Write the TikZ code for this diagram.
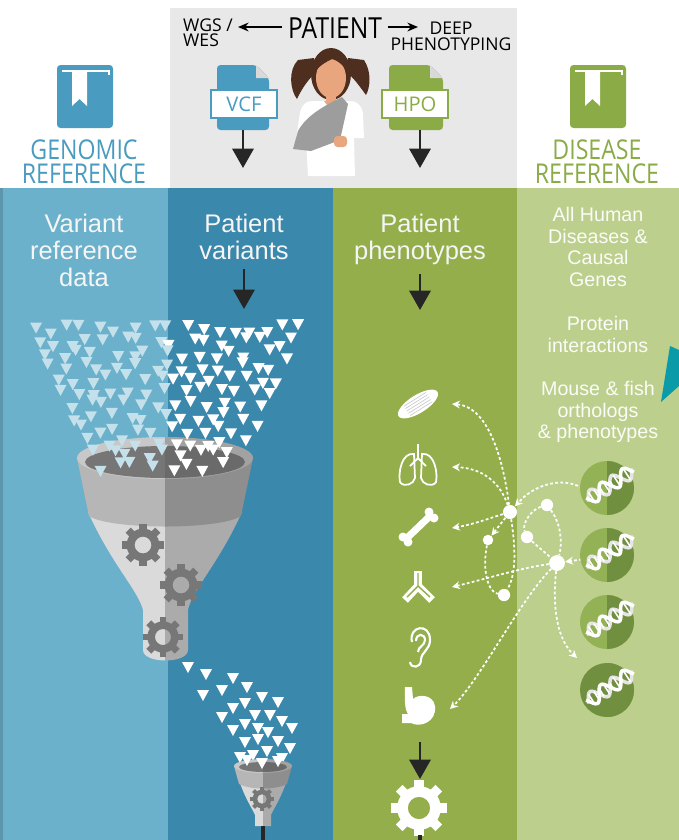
\documentclass[tikz,border=0pt]{standalone}
\usepackage{fontspec}
\usepackage{graphicx}
\setmainfont{Liberation Sans}
\newfontfamily\headfont{Open Sans}
\usetikzlibrary{arrows.meta}

\definecolor{colA}{HTML}{6CB1CB}
\definecolor{colB}{HTML}{3B88AD}
\definecolor{colC}{HTML}{93AE4A}
\definecolor{colD}{HTML}{BCCF8D}
\definecolor{refblue}{HTML}{4A9BC0}
\definecolor{refgreen}{HTML}{8AAB45}
\definecolor{topgray}{HTML}{E8E8E8}
\definecolor{hair}{HTML}{4E2E1F}
\definecolor{skin}{HTML}{E9A57D}
\definecolor{sling}{HTML}{9D9D9D}
\definecolor{gearg}{HTML}{777777}
\definecolor{dnalight}{HTML}{93B155}
\definecolor{dnadark}{HTML}{71903F}
\definecolor{wedge}{HTML}{0A9AA8}
\definecolor{bandL}{HTML}{B6B6B6}
\definecolor{bandR}{HTML}{8E8E8E}
\definecolor{coneL}{HTML}{DADADA}
\definecolor{coneR}{HTML}{ABABAB}
\definecolor{rimL}{HTML}{C8C8C8}
\definecolor{rimR}{HTML}{A2A2A2}
\definecolor{mouthL}{HTML}{767676}
\definecolor{mouthR}{HTML}{6A6A6A}

% condensed caps for the headings
\newcommand\cond[1]{\scalebox{0.85}[1]{#1}}

\tikzset{
  pics/gear/.style={code={
    \fill[even odd rule] (0,0) circle[radius=#1*0.4] circle[radius=#1*0.78];
    \foreach \a in {0,45,...,315}
      \fill[rotate=\a] (-#1*0.17,#1*0.6) rectangle (#1*0.17,#1);
  }},
  pics/drop/.style={code={\fill (-6,-5) -- (6,-5) -- (0,6) -- cycle;}},
  pics/book/.style={code={
    \fill[rounded corners=2pt] (-28,-31) rectangle (28,32);
    \draw[white,line width=1.3pt] (-23,-25) -- (24,-25) -- (24,-21);
    \fill[white] (-13,-25) -- (2,-25) -- (2,10) -- (-5.5,3) -- (-13,10) -- cycle;
  }},
}

\begin{document}
\begin{tikzpicture}[x=0.02cm,y=-0.02cm,
  coltxt/.style={font=\fontsize{14.5}{15.4}\selectfont,text=white!96!black,
                 align=center,inner sep=0pt,anchor=north},
  dbtxt/.style={font=\fontsize{11.2}{12.3}\selectfont,text=white!94!colD,
                align=center,inner sep=0pt,anchor=north},
  reftxt/.style={font=\headfont\fontsize{15.5}{12.6}\selectfont,inner sep=0pt,anchor=north},
  capsmall/.style={font=\headfont\fontsize{10}{8.6}\selectfont,inner sep=0pt,anchor=north},
  filebox/.style={draw,fill=white,line width=1.2pt,minimum width=38pt,minimum height=16pt,
                  inner sep=0pt,font=\headfont\fontsize{11.5}{11.5}\selectfont},
  bigarrow/.style={line width=1.7pt,black!85,-{Triangle[width=12pt,length=11pt]}},
  hub/.style={circle,fill=white,inner sep=0pt,minimum size=7pt},
  dotline/.style={white,line width=1pt,dash pattern=on 1.6pt off 1.3pt},
  dotarrow/.style={dotline,-{Stealth[length=4.5pt,width=4.5pt]}}]

  \useasboundingbox (0,0) rectangle (679,840);
  \fill[white] (0,0) rectangle (679,840);

  % column bands
  \fill[topgray] (170,8) rectangle (517,188);
  \fill[colA] (0,188) rectangle (168,840);
  \fill[colA!85!black] (0,188) rectangle (3,840);
  \fill[colB] (168,188) rectangle (333,840);
  \fill[colC] (333,188) rectangle (517,840);
  \fill[colD] (517,188) rectangle (679,840);

  % reference books
  \pic[fill=refblue] at (85,96) {book};
  \pic[fill=refgreen] at (598,96) {book};
  \node[reftxt,text=refblue] (genref) at (84,139) {\cond{GENOMIC}};
  \node[reftxt,text=refblue] (genref2) at (84,163) {\cond{REFERENCE}};
  \node[reftxt,text=refgreen] (disref) at (597,139) {\cond{DISEASE}};
  \node[reftxt,text=refgreen] (disref2) at (597,163) {\cond{REFERENCE}};

  % patient header
  \node[font=\headfont\fontsize{16.5}{16.5}\selectfont,inner sep=0pt,anchor=north]
       (patient) at (335,17) {\cond{PATIENT}};
  \node[capsmall,align=left] (wgs) at (208,18) {WGS /\\WES};
  \node[capsmall,align=center] (deep) at (451,22) {DEEP\\PHENOTYPING};
  \coordinate (wgstip) at (238,27);
  \coordinate (deeptip) at (418,27);
  \draw[line width=1pt,-{Stealth[length=6pt,width=5pt]}] ([xshift=-3pt]patient.west|-wgstip) -- (wgstip);
  \draw[line width=1pt,-{Stealth[length=6pt,width=5pt]}] ([xshift=3pt]patient.east|-deeptip) -- (deeptip);

  % file icons
  \fill[refblue,rounded corners=2pt] (217,65) -- (256,65) -- (269,78) -- (269,130) -- (217,130) -- cycle;
  \fill[gray!30] (256,65) -- (269,78) -- (256,78) -- cycle;
  \node[filebox,draw=refblue,text=refblue] (vcf) at (244,104) {VCF};
  \fill[refgreen,rounded corners=2pt] (389,65) -- (430,65) -- (443,78) -- (443,130) -- (389,130) -- cycle;
  \fill[gray!30] (430,65) -- (443,78) -- (430,78) -- cycle;
  \node[filebox,draw=refgreen,text=refgreen] (hpo) at (415,104) {HPO};
  \coordinate (vcfout) at (243,130);
  \coordinate (vcfdown) at (243,168);
  \coordinate (hpoout) at (420,130);
  \coordinate (hpodown) at (420,168);
  \draw[bigarrow] (vcfout) -- (vcfdown);
  \draw[bigarrow] (hpoout) -- (hpodown);

  % patient figure
  \fill[hair] (298,60) .. controls (288,70) and (290,90) .. (297,99)
              .. controls (303,86) and (310,78) .. (316,72) -- (314,58) -- cycle;
  \fill[hair] (364,60) .. controls (372,72) and (370,88) .. (366,95)
              .. controls (358,84) and (352,76) .. (346,72) -- (348,58) -- cycle;
  \fill[hair] (331,74) ellipse[x radius=20,y radius=26];
  \fill[skin] (331,78) ellipse[x radius=15,y radius=20];
  \fill[hair] (314,74) .. controls (311,52) and (351,50) .. (348,74)
              .. controls (344,64) and (336,60) .. (332,59) .. controls (326,62) and (318,66) .. cycle;
  \fill[skin] (326,94) rectangle (336,104);
  \fill[white] (312,101) -- (352,101) .. controls (358,102) and (362,106) .. (363,114)
               -- (364,138) -- (354,138) -- (355,176) -- (308,176) -- (306,140)
               -- (296,140) -- (300,112) .. controls (302,105) and (306,101) .. cycle;
  \fill[skin] (324,101) -- (338,101) -- (331,110) -- cycle;
  \fill[sling] (342,97) -- (348,104) -- (340,140) -- (311,151) -- (293,149)
               -- (298,131) .. controls (304,120) and (315,110) .. cycle;
  \fill[skin,rounded corners=2pt] (334,136) rectangle (347,147);

  % column titles
  \node[coltxt] (varref) at (84,214) {Variant\\reference\\data};
  \node[coltxt] (ptvar) at (244,214) {Patient\\variants};
  \node[coltxt] (ptphen) at (420,214) {Patient\\phenotypes};
  \coordinate (varin) at (244,309);
  \coordinate (phenin) at (420,310);
  \draw[bigarrow] ([yshift=-5pt]ptvar.south) -- (varin);
  \draw[bigarrow] ([yshift=-5pt]ptphen.south) -- (phenin);

  \node[dbtxt] (diseases) at (598,207) {All Human\\Diseases \&\\Causal\\Genes};
  \node[dbtxt] (protein) at (598,316) {Protein\\interactions};
  \node[dbtxt] (orthologs) at (598,381) {Mouse \& fish\\orthologs\\\& phenotypes};
  \fill[wedge] (661,402) -- (670,346) -- (679,350) -- (679,386) -- cycle;

  % big funnel, light left half and shaded right half
  \foreach \side/\xa/\xb in {L/60/165, R/165/270} {
    \begin{scope}
      \clip (\xa,420) rectangle (\xb,680);
      \fill[cone\side] (88,512) .. controls (112,565) and (138,590) .. (143,610) -- (143,650)
            .. controls (143,664) and (188,664) .. (188,650) -- (188,610)
            .. controls (192,590) and (218,565) .. (242,512) -- cycle;
      \fill[band\side] (77,458) -- (89,516) .. controls (110,530) and (220,530) .. (241,516)
            -- (253,458) -- cycle;
      \fill[rim\side] (165,458) ellipse[x radius=88,y radius=21];
      \fill[mouth\side] (165,462) ellipse[x radius=80,y radius=16];
    \end{scope}
  }
  \pic[fill=gearg] at (143,545) {gear=21};
  \pic[fill=gearg] at (181,585) {gear=21};
  \pic[fill=gearg] at (163,637) {gear=20};

  % incoming variants: reference (faded) and patient (white), jittered rows
  \pgfmathsetseed{17}
  \foreach \r in {0,...,11} {
    \pgfmathsetmacro\ry{329+\r*12.5}
    \pgfmathsetmacro\hw{136-0.5*(\ry-329)}
    \pgfmathtruncatemacro\n{2*\hw/17}
    \foreach \c in {0,...,\n} {
      \pgfmathsetmacro\tx{168-\hw+\c*17+12*rnd-6}
      \pgfmathsetmacro\ty{\ry+10*rnd-5}
      \pgfmathtruncatemacro\shade{\tx<168 ? 60 : 100}
      \pic[fill=white!\shade!colA] at (\tx,\ty) {drop};
    }
  }

  % small funnel with the remaining variants
  \foreach \tx/\ty in {188/667,206/674,233/678,203/695,222/690,247/687,262/697,278/702,
                       233/708,245/703,222/717,255/715,270/715,282/721,292/728,233/730,
                       245/724,258/728,268/732,245/742,258/739,278/741,290/748,240/757,
                       253/755,267/751,282/758} {
    \pic[fill=white] at (\tx,\ty) {drop};
  }
  \foreach \side/\xa/\xb in {L/220/263, R/263/310} {
    \begin{scope}
      \clip (\xa,755) rectangle (\xb,840);
      \fill[cone\side] (240,783) .. controls (246,800) and (252,808) .. (255,815) -- (255,826)
            -- (271,826) -- (271,815) .. controls (274,808) and (280,800) .. (286,783) -- cycle;
      \fill[band\side] (234,766) -- (239,784) .. controls (250,790) and (276,790) .. (287,784)
            -- (292,766) -- cycle;
      \fill[rim\side] (263,766) ellipse[x radius=29,y radius=7];
      \fill[mouth\side] (263,767) ellipse[x radius=24,y radius=5];
    \end{scope}
  }
  \foreach \tx/\ty in {247/760,262/763,278/761} {
    \pic[fill=white] at (\tx,\ty) {drop};
  }
  \pic[fill=gearg] at (262,799) {gear=12};
  \coordinate (fnlout) at (263,826);
  \coordinate (fnlend) at (263,840);
  \draw[line width=2pt,black!85] (fnlout) -- (fnlend);

  % phenotype icons
  \fill[white,rotate around={32:(418,404)}] (418,404) ellipse[x radius=23,y radius=9];
  \foreach \o in {-8,-4,0,4,8}
    \draw[gray!40,line width=0.4pt,rotate around={32:(418,404)}] (405,404+\o*0.7) -- (431,404+\o*0.7);
  \begin{scope}[white,line width=1pt]
    \draw (418,444) -- (418,460) (418,458) -- (410,466) (418,458) -- (426,466);
    \draw (414,454) .. controls (402,452) and (398,472) .. (400,482)
          .. controls (404,488) and (414,484) .. (415,478) -- cycle;
    \draw (422,454) .. controls (434,452) and (438,472) .. (436,482)
          .. controls (432,488) and (422,484) .. (421,478) -- cycle;
  \end{scope}
  \draw[white,line width=4pt] (407,538) -- (430,516);
  \foreach \bx/\by in {434/518,429/512,408/542,403/537}
    \fill[white] (\bx,\by) circle[radius=4.5];
  \draw[white,line width=4.5pt] (418,571) -- (418,586) -- (405,600) (418,586) -- (432,600);
  \draw[colC,line width=0.8pt] (418,573) -- (418,586) -- (407,597) (418,586) -- (430,597);
  \begin{scope}[white,line width=1.2pt]
    \draw (412,642) .. controls (408,626) and (430,622) .. (430,640)
          .. controls (430,650) and (421,652) .. (421,660) .. controls (421,668) and (411,669) .. (410,662);
    \draw (416,641) .. controls (416,633) and (425,633) .. (425,640) .. controls (425,646) and (418,646) .. (418,652);
  \end{scope}
  \fill[white] (405,687) -- (412,687) -- (413,699) .. controls (418,694) and (433,694) .. (435,706)
        .. controls (437,722) and (420,728) .. (411,723) -- (402,723) -- (402,714) -- (408,714)
        .. controls (404,708) and (405,698) .. cycle;

  % output gear
  \coordinate (phenout) at (420,742);
  \coordinate (gearin) at (420,779);
  \draw[bigarrow] (phenout) -- (gearin);
  \pic[fill=white] at (419,808) {gear=28};
  \coordinate (gearout) at (420,835);
  \coordinate (gearend) at (420,840);
  \draw[line width=2pt,black!85] (gearout) -- (gearend);

  % gene network
  \node[hub,minimum size=8pt] (h1) at (510,512) {};
  \node[hub] (h2) at (547,505) {};
  \node[hub] (h3) at (527,537) {};
  \node[hub,minimum size=6pt] (h4) at (488,540) {};
  \node[hub,minimum size=9pt] (h5) at (557,563) {};
  \node[hub] (h6) at (504,595) {};
  \coordinate (muscle) at (452,404);
  \coordinate (lungs) at (452,467);
  \coordinate (bone) at (452,528);
  \coordinate (antibody) at (452,587);
  \coordinate (stomach) at (450,709);
  \coordinate (geneA) at (586,492);
  \coordinate (geneB) at (592,558);
  \coordinate (looseend) at (577,658);

  \draw[dotarrow] (h1) .. controls (502,450) and (485,406) .. (muscle);
  \draw[dotarrow] (h1) .. controls (500,482) and (482,468) .. (lungs);
  \draw[dotarrow] (h1) .. controls (490,518) and (475,524) .. (bone);
  \draw[dotarrow] (h5) .. controls (520,568) and (490,578) .. (antibody);
  \draw[dotarrow] (h5) .. controls (520,600) and (480,680) .. (stomach);
  \draw[dotarrow] (h5) .. controls (552,610) and (558,640) .. (looseend);
  \draw[dotarrow] (geneA) .. controls (575,478) and (540,478) .. (h1);
  \draw[dotarrow] (geneB) -- (h5);
  \draw[dotarrow] (h1) -- (h4);
  \draw[dotline] (h2) .. controls (562,525) and (562,545) .. (h5);
  \draw[dotline] (h2) .. controls (530,510) and (522,525) .. (h3);
  \draw[dotline] (h1) .. controls (516,550) and (516,575) .. (h6);
  \draw[dotline] (h4) .. controls (482,570) and (488,592) .. (h6);
  \draw[dotline] (h3) -- (h5);

  % disease genes
  \foreach \dy/\lc in {488/dnalight, 555/dnalight, 622/dnalight, 690/dnadark} {
    \fill[\lc] (607,\dy) circle[radius=27];
    \begin{scope}
      \clip (607,\dy-30) rectangle (640,\dy+30);
      \fill[dnadark] (607,\dy) circle[radius=27];
    \end{scope}
    \begin{scope}[shift={(610,\dy-3)},rotate=33]
      \draw[white!80!gray,line width=2pt] plot[domain=-27:27,samples=40,smooth] (\x,{-7*sin(14*\x)});
      \draw[white,line width=2pt] plot[domain=-27:27,samples=40,smooth] (\x,{7*sin(14*\x)});
      \foreach \r in {-22,-16,...,23}
        \draw[white,line width=0.9pt] (\r,{7*sin(14*\r)}) -- (\r,{-7*sin(14*\r)});
    \end{scope}
  }
\end{tikzpicture}
\end{document}
